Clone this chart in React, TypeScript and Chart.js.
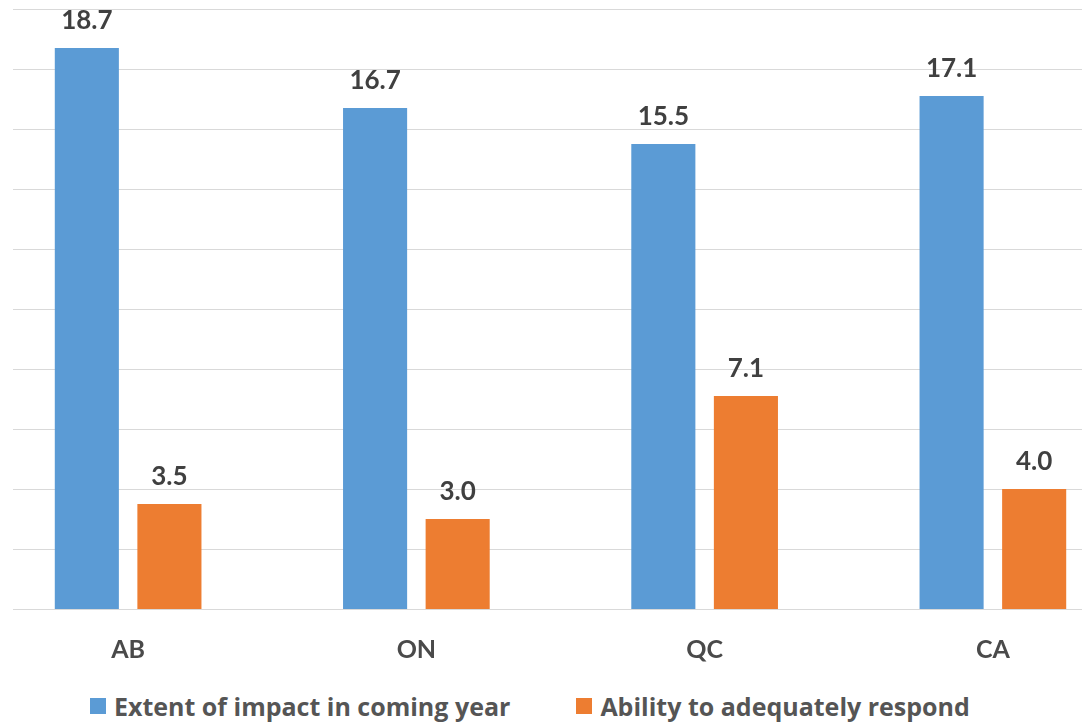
import React, { useEffect, useRef } from "react";
import { Chart, registerables } from "chart.js";

Chart.register(...registerables);

const categories = ["AB", "ON", "QC", "CA"];
const extentValues = [18.7, 16.7, 15.5, 17.1];
const abilityValues = [3.5, 3.0, 7.1, 4.0];
const seriesNames = ["Extent of impact in coming year", "Ability to adequately respond"];
const seriesColors = ["#5B9BD5", "#ED7D31"];
const yMin = 0;
const yMax = 20;
const yStep = 2;

const FONT = "Lato, 'Open Sans', sans-serif";
const LEGEND_FONT = "'Open Sans', Lato, sans-serif";
const CANVAS_LEFT = -40;
const GRID_START = 13 - CANVAS_LEFT;

const gridPlugin = {
  id: "customGrid",
  beforeDatasetsDraw(chart: any) {
    const { ctx, chartArea, scales } = chart;
    const y = scales.y;
    ctx.save();
    ctx.strokeStyle = "#D9D9D9";
    ctx.lineWidth = 1;
    y.ticks.forEach((t: any) => {
      const py = Math.round(y.getPixelForValue(t.value)) + 0.5;
      ctx.beginPath();
      ctx.moveTo(GRID_START, py);
      ctx.lineTo(chartArea.right, py);
      ctx.stroke();
    });
    ctx.restore();
  },
};

const labelPlugin = {
  id: "valueLabels",
  afterDatasetsDraw(chart: any) {
    const { ctx } = chart;
    ctx.save();
    ctx.font = `bold 26px ${FONT}`;
    ctx.fillStyle = "#404040";
    ctx.textAlign = "center";
    ctx.textBaseline = "alphabetic";
    chart.data.datasets.forEach((ds: any, i: number) => {
      const meta = chart.getDatasetMeta(i);
      meta.data.forEach((el: any, j: number) => {
        ctx.fillText(Number(ds.data[j]).toFixed(1), el.x, el.y - 19);
      });
    });
    ctx.restore();
  },
};

export default function App() {
  const ref = useRef<HTMLCanvasElement | null>(null);

  useEffect(() => {
    if (!ref.current) return;
    const chart = new Chart(ref.current, {
      type: "bar",
      data: {
        labels: categories,
        datasets: [
          {
            label: seriesNames[0],
            data: extentValues,
            backgroundColor: seriesColors[0],
            categoryPercentage: 0.573,
            barPercentage: 0.776,
          },
          {
            label: seriesNames[1],
            data: abilityValues,
            backgroundColor: seriesColors[1],
            categoryPercentage: 0.573,
            barPercentage: 0.776,
          },
        ],
      },
      options: {
        responsive: false,
        maintainAspectRatio: false,
        animation: false,
        layout: { padding: { left: 24, right: 23, top: 9, bottom: 0 } },
        plugins: {
          legend: { display: false },
          tooltip: { enabled: false },
        },
        scales: {
          x: {
            grid: { display: false, drawTicks: false },
            border: { display: false },
            ticks: {
              color: "#4a4a4a",
              font: { family: FONT, size: 25, weight: "bold" },
              padding: 26,
            },
            afterFit: (scale: any) => {
              scale.height = 71;
            },
          },
          y: {
            display: false,
            min: yMin,
            max: yMax,
            ticks: { stepSize: yStep },
          },
        },
      },
      plugins: [gridPlugin, labelPlugin],
    });
    return () => chart.destroy();
  }, []);

  const legendItem = (i: number) => (
    <div key={i} style={{ display: "flex", alignItems: "center" }}>
      <span
        style={{
          display: "inline-block",
          width: 16,
          height: 16,
          background: seriesColors[i],
          marginRight: 8,
        }}
      />
      <span>{seriesNames[i]}</span>
    </div>
  );

  return (
    <div
      style={{
        position: "fixed",
        left: 0,
        top: 0,
        width: 1082,
        height: 723,
        overflow: "hidden",
        background: "#fff",
      }}
    >
      <canvas
        ref={ref}
        width={1200}
        height={680}
        style={{ position: "absolute", left: CANVAS_LEFT, top: 0, width: 1200, height: 680 }}
      />
      <div
        style={{
          position: "absolute",
          left: 90,
          top: 690,
          display: "flex",
          gap: 66,
          fontFamily: LEGEND_FONT,
          fontWeight: "bold",
          fontSize: 25,
          color: "#555555",
          lineHeight: "32px",
          whiteSpace: "nowrap",
        }}
      >
        {legendItem(0)}
        {legendItem(1)}
      </div>
    </div>
  );
}
